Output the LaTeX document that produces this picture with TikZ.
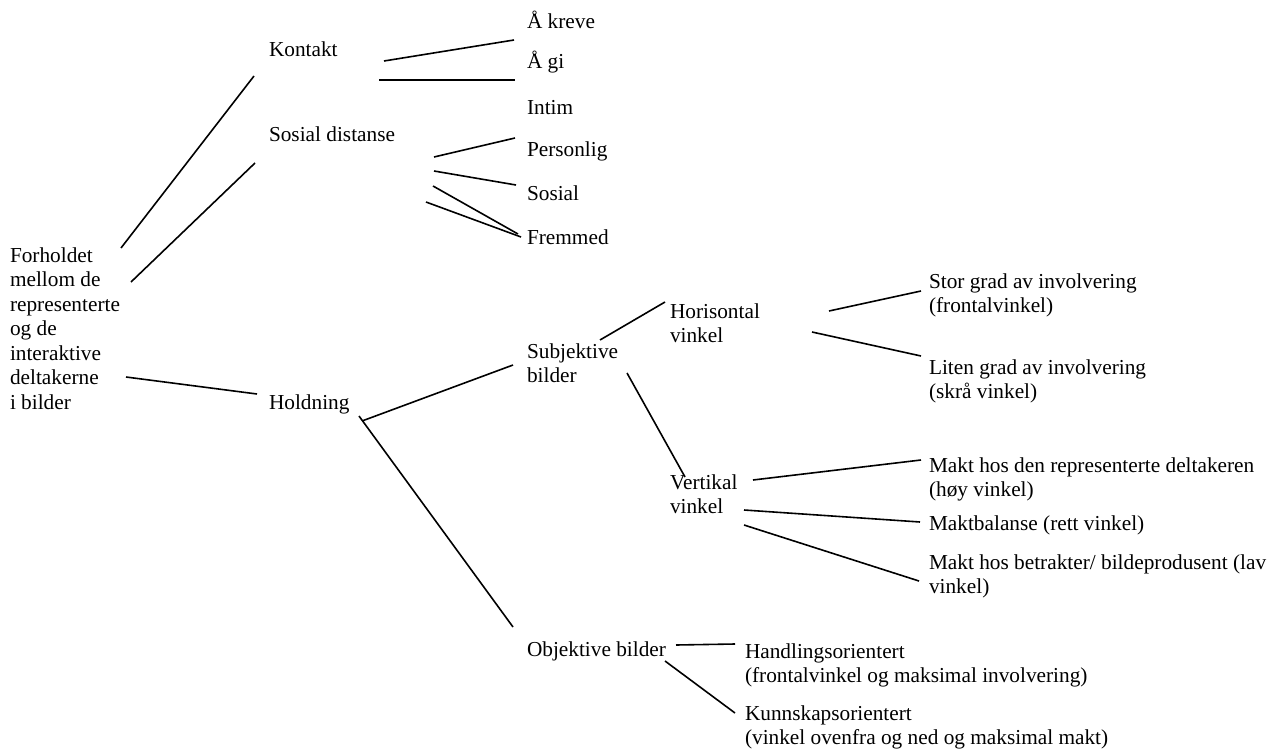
\documentclass[tikz,border=0pt]{standalone}
\usepackage{fontspec}
\setmainfont{Liberation Serif}
\newfontfamily\timesfont{Liberation Serif}
\begin{document}
\begin{tikzpicture}[x=1pt,y=-1pt,
  lbl/.style={inner sep=0pt, outer sep=0pt, anchor=base west, align=left,
    font=\timesfont\fontsize{21.3}{24.5}\selectfont},
  conn/.style={line width=1.6pt, black}]
\useasboundingbox (0,0) rectangle (1268,749);
% nodes (position = last-line baseline, left edge)
\node[lbl] (root) at (10,409) {Forholdet\\mellom de\\representerte\\og de\\interaktive\\deltakerne\\i bilder};
\node[lbl] (kontakt) at (269,57) {Kontakt};
\node[lbl] (kreve) at (527,29) {Å kreve};
\node[lbl] (gi) at (527,69) {Å gi};
\node[lbl] (sosdist) at (269,142) {Sosial distanse};
\node[lbl] (intim) at (527,114) {Intim};
\node[lbl] (personlig) at (527,157) {Personlig};
\node[lbl] (sosial) at (527,200) {Sosial};
\node[lbl] (fremmed) at (527,244) {Fremmed};
\node[lbl] (holdning) at (269,409) {Holdning};
\node[lbl] (subj) at (527,382.5) {Subjektive\\bilder};
\node[lbl] (horis) at (670,342.5) {Horisontal\\vinkel};
\node[lbl] (stor) at (929,312.5) {Stor grad av involvering\\(frontalvinkel)};
\node[lbl] (liten) at (929,398.5) {Liten grad av involvering\\(skrå vinkel)};
\node[lbl] (vert) at (670,513.5) {Vertikal\\vinkel};
\node[lbl] (makt1) at (929,496.5) {Makt hos den representerte deltakeren\\(høy vinkel)};
\node[lbl] (makt2) at (929,530) {Maktbalanse (rett vinkel)};
\node[lbl] (makt3) at (929,593.5) {Makt hos betrakter/ bildeprodusent (lav\\vinkel)};
\node[lbl] (obj) at (527,656) {Objektive bilder};
\node[lbl] (handl) at (745,682.5) {Handlingsorientert\\(frontalvinkel og maksimal involvering)};
\node[lbl] (kunn) at (745,744.5) {Kunnskapsorientert\\(vinkel ovenfra og ned og maksimal makt)};
% connectors (ends given relative to each node's base west point)
\draw[conn] ([shift={(111,-161)}]root.base west) -- ([shift={(-15,19)}]kontakt.base west);
\draw[conn] ([shift={(121,-127)}]root.base west) -- ([shift={(-14,21)}]sosdist.base west);
\draw[conn] ([shift={(116,-32)}]root.base west) -- ([shift={(-12,-15)}]holdning.base west);
\draw[conn] ([shift={(115,4)}]kontakt.base west) -- ([shift={(-13,11)}]kreve.base west);
\draw[conn] ([shift={(110,23)}]kontakt.base west) -- ([shift={(-12,11)}]gi.base west);
\draw[conn] ([shift={(165,15)}]sosdist.base west) -- ([shift={(-12,24)}]intim.base west);
\draw[conn] ([shift={(165,29)}]sosdist.base west) -- ([shift={(-11,28)}]personlig.base west);
\draw[conn] ([shift={(164,44)}]sosdist.base west) -- ([shift={(-9,34)}]sosial.base west);
\draw[conn] ([shift={(157,60)}]sosdist.base west) -- ([shift={(-6,-7)}]fremmed.base west);
\draw[conn] ([shift={(93,12)}]holdning.base west) -- ([shift={(-14,-17.5)}]subj.base west);
\draw[conn] ([shift={(90,7)}]holdning.base west) -- ([shift={(-14,-29)}]obj.base west);
\draw[conn] ([shift={(73,-42.5)}]subj.base west) -- ([shift={(-5,-40.5)}]horis.base west);
\draw[conn] ([shift={(100,-9.5)}]subj.base west) -- ([shift={(15,-36.5)}]vert.base west);
\draw[conn] ([shift={(159,-31.5)}]horis.base west) -- ([shift={(-8,-21.5)}]stor.base west);
\draw[conn] ([shift={(142,-10.5)}]horis.base west) -- ([shift={(-8,-42.5)}]liten.base west);
\draw[conn] ([shift={(83,-33.5)}]vert.base west) -- ([shift={(-8,-36.5)}]makt1.base west);
\draw[conn] ([shift={(74,-3.5)}]vert.base west) -- ([shift={(-9,-8)}]makt2.base west);
\draw[conn] ([shift={(74,11.5)}]vert.base west) -- ([shift={(-10,-12.5)}]makt3.base west);
\draw[conn] ([shift={(149,-11)}]obj.base west) -- ([shift={(-10,-38.5)}]handl.base west);
\draw[conn] ([shift={(138,5)}]obj.base west) -- ([shift={(-10,-31.5)}]kunn.base west);
\end{tikzpicture}
\end{document}
